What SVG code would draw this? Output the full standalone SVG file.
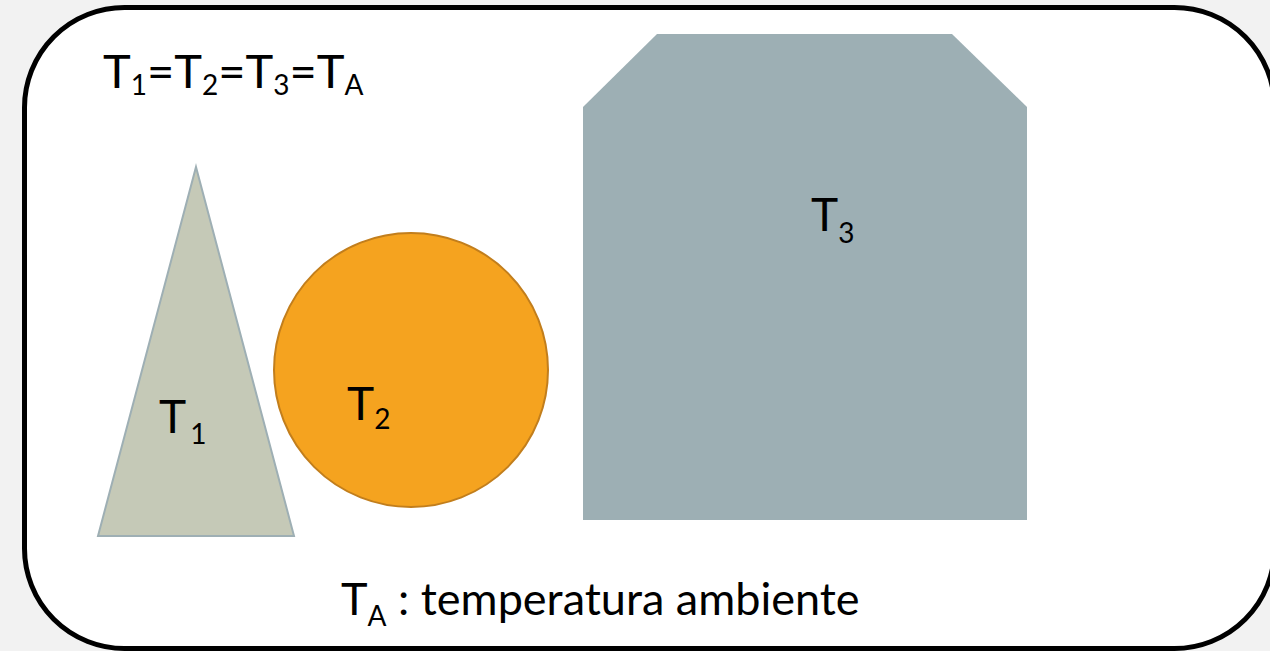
<svg xmlns="http://www.w3.org/2000/svg" width="1270" height="651" viewBox="0 0 1270 651">
<style>
.t{font-family:Lato,"Open Sans",sans-serif;fill:#000}
.big{font-size:46px}
.sub{font-size:28px}
</style>
<rect x="0" y="0" width="1270" height="651" fill="#f2f2f2"/>
<rect id="frame" x="24.5" y="7.5" width="1250" height="641" rx="100" ry="100" fill="#ffffff" stroke="#000" stroke-width="5"/>
<g id="triangle">
<polygon points="196,167 294,536 98,536" fill="#c5c9b7" stroke="#9eafb4" stroke-width="2"/>
<text class="t big" x="159" y="433">T<tspan class="sub" dx="4" dy="11">1</tspan></text>
</g>
<g id="circle">
<circle cx="411" cy="370" r="137" fill="#f5a31f" stroke="#c27e1c" stroke-width="2"/>
<text class="t big" x="347" y="420">T<tspan class="sub" dx="0" dy="9">2</tspan></text>
</g>
<g id="octagon">
<polygon points="657,34 952,34 1027,107 1027,520 583,520 583,107" fill="#9dafb4"/>
<text class="t big" x="811" y="231">T<tspan class="sub" dx="0" dy="12">3</tspan></text>
</g>
<g id="labels">
<text class="t" font-size="47" x="103" y="88">T<tspan class="sub" dy="7">1</tspan><tspan dy="-7">=T</tspan><tspan class="sub" dy="7">2</tspan><tspan dy="-7">=T</tspan><tspan class="sub" dy="7">3</tspan><tspan dy="-7">=T</tspan><tspan class="sub" dy="7">A</tspan></text>
<text class="t" font-size="45" x="341" y="615">T<tspan class="sub" dy="11">A</tspan><tspan dy="-11"> : temperatura ambiente</tspan></text>
</g>
</svg>
